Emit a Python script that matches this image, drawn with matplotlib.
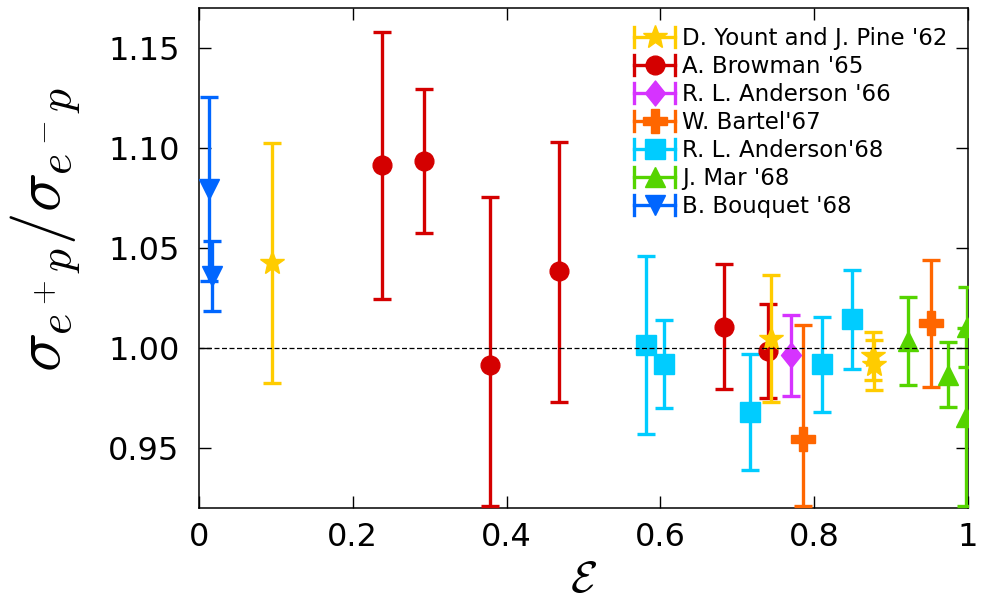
import matplotlib
matplotlib.use('Agg')
import matplotlib.pyplot as plt
from matplotlib.lines import Line2D
from matplotlib.legend_handler import HandlerBase
from matplotlib.path import Path

plt.rcParams['font.family'] = 'DejaVu Sans'
plt.rcParams['mathtext.fontset'] = 'cm'

# ratio sigma(e+p)/sigma(e-p) against epsilon, one set of lists per experiment
yount_x = [0.095, 0.7435, 0.876, 0.878]
yount_y = [1.0425, 1.0047, 0.9962, 0.9915]
yount_err = [0.060, 0.0318, 0.012, 0.0125]

browman_x = [0.238, 0.293, 0.378, 0.468, 0.683, 0.740]
browman_y = [1.0915, 1.0935, 0.9915, 1.0387, 1.0107, 0.9985]
browman_lo = [0.067, 0.036, 0.0703, 0.0655, 0.0312, 0.0235]
browman_hi = [0.0665, 0.036, 0.0838, 0.0643, 0.0311, 0.0235]

anderson66_x = [0.7695]
anderson66_y = [0.9963]
anderson66_err = [0.0201]

bartel_x = [0.786, 0.952]
bartel_y = [0.9547, 1.0127]
bartel_lo = [0.0335, 0.0320]
bartel_hi = [0.0568, 0.0313]

anderson68_x = [0.581, 0.605, 0.716, 0.810, 0.849]
anderson68_y = [1.0015, 0.992, 0.968, 0.9918, 1.0143]
anderson68_err = [0.0447, 0.0219, 0.0291, 0.0238, 0.0249]

mar_x = [0.9215, 0.9745, 0.999, 0.997]
mar_y = [1.0036, 0.9866, 1.0107, 0.9657]
mar_lo = [0.0221, 0.0163, 0.020, 0.0445]
mar_hi = [0.0221, 0.0162, 0.020, 0.0445]

bouquet_x = [0.013, 0.017]
bouquet_y = [1.0795, 1.036]
bouquet_err = [0.046, 0.0173]

labels = ["D. Yount and J. Pine '62", "A. Browman '65", "R. L. Anderson '66",
          "W. Bartel'67", "R. L. Anderson'68", "J. Mar '68", "B. Bouquet '68"]

# slightly narrow diamond
diamond = Path([(0, 1), (0.8, 0), (0, -1), (-0.8, 0), (0, 1)],
               [Path.MOVETO, Path.LINETO, Path.LINETO, Path.LINETO, Path.CLOSEPOLY])

styles = [
    ('#ffcc00', '*', 18),
    ('#d40000', 'o', 13.5),
    ('#d633ff', diamond, 18),
    ('#ff6600', 'P', 17),
    ('#00ccff', 's', 13.7),
    ('#55d400', '^', 15),
    ('#0066ff', 'v', 15),
]

series = [
    (yount_x, yount_y, yount_err),
    (browman_x, browman_y, [browman_lo, browman_hi]),
    (anderson66_x, anderson66_y, anderson66_err),
    (bartel_x, bartel_y, [bartel_lo, bartel_hi]),
    (anderson68_x, anderson68_y, anderson68_err),
    (mar_x, mar_y, [mar_lo, mar_hi]),
    (bouquet_x, bouquet_y, bouquet_err),
]
zorders = [4, 3, 3, 3, 3, 3, 3]


class HandlerHErr(HandlerBase):
    """legend sample: horizontal bar with end caps and the marker in the middle"""
    def create_artists(self, legend, orig_handle, xdescent, ydescent,
                       width, height, fontsize, trans):
        c = orig_handle.get_color()
        y = height / 2 - ydescent
        x0, x1 = -xdescent, width - xdescent
        h = 7.2
        arts = [
            Line2D([x0, x1], [y, y], color=c, lw=2.4),
            Line2D([x0, x0], [y - h, y + h], color=c, lw=2.4),
            Line2D([x1, x1], [y - h, y + h], color=c, lw=2.4),
            Line2D([(x0 + x1) / 2], [y], color=c, marker=orig_handle.get_marker(),
                   markersize=orig_handle.get_markersize(), ls='none'),
        ]
        for a in arts:
            a.set_transform(trans)
        return arts


fig = plt.figure(figsize=(9.82, 6.03), dpi=100)
ax = fig.add_axes([199 / 982, 1 - 508 / 603, 769 / 982, 500 / 603])

handles = []
for (x, y, e), (c, m, ms), z in zip(series, styles, zorders):
    ax.errorbar(x, y, yerr=e, fmt='none', ecolor=c,
                elinewidth=2.4, capsize=6.5, capthick=2.4, zorder=z)
    ax.plot(x, y, ls='none', marker=m, color=c, ms=ms, zorder=z + 0.1)
    handles.append(Line2D([], [], color=c, marker=m, markersize=ms, ls='none'))

ax.axhline(1.0, color='k', lw=0.9, ls=(0, (4, 2)), zorder=10)

ax.set_xlim(0, 1)
ax.set_ylim(0.92, 1.17)
ax.set_xticks([0, 0.2, 0.4, 0.6, 0.8, 1.0])
ax.set_xticklabels(['0', '0.2', '0.4', '0.6', '0.8', '1'])
ax.set_yticks([0.95, 1.00, 1.05, 1.10, 1.15])
ax.set_yticklabels(['0.95', '1.00', '1.05', '1.10', '1.15'])
ax.tick_params(direction='in', length=8.5, width=1, top=True, right=True,
               labelsize=23)
ax.tick_params(axis='x', pad=10)
ax.tick_params(axis='y', pad=14)
for s in ax.spines.values():
    s.set_linewidth(1.1)

ax.set_xlabel(r'$\mathcal{E}$', fontsize=32, labelpad=4)
fig.text(46 / 982, 1 - 230 / 603, r'$\sigma_{e^+p}/\sigma_{e^-p}$',
         rotation=90, ha='center', va='center', fontsize=47)

ax.legend(handles, labels, handler_map={Line2D: HandlerHErr()},
          loc='upper left', bbox_to_anchor=(634 / 982, 1 - 27 / 603),
          bbox_transform=fig.transFigure, frameon=False, fontsize=16.5,
          handlelength=1.8, handletextpad=0.3, labelspacing=0.22,
          borderpad=0, borderaxespad=0)

fig.savefig('out.png', dpi=100)
